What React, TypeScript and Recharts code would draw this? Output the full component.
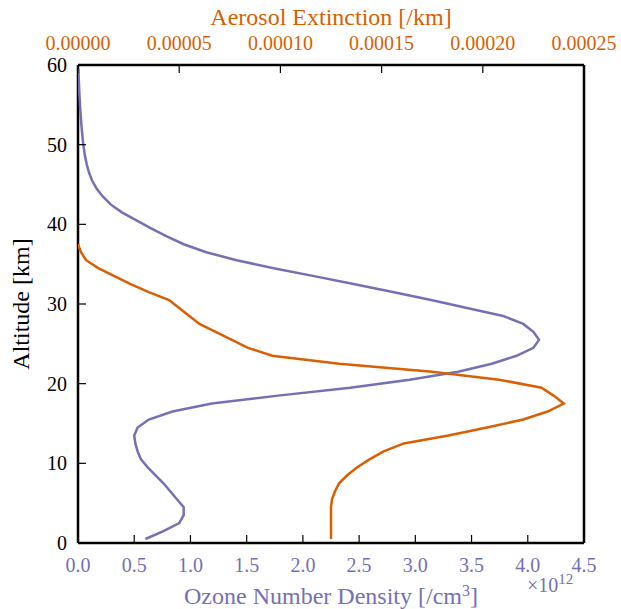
import { Scatter, ScatterChart, XAxis, YAxis } from "recharts";

const PURPLE = "#7570b3";
const ORANGE = "#d95f02";
const FONT = "Liberation Serif, Times New Roman, DejaVu Serif, serif";

// ozone profile, altitude in km, density in units of 1e12 /cm^3
const ozoneAlt = [
  0.5, 1.5, 2.5, 3.5, 4.5, 5.5, 6.5, 7.5, 8.5, 9.5, 10.5, 11.5, 12.5, 13.5, 14.5,
  15.5, 16.5, 17.5, 18.5, 19.5, 20.5, 21.5, 22.5, 23.5, 24.5, 25.5, 26.5, 27.5,
  28.5, 29.5, 30.5, 31.5, 32.5, 33.5, 34.5, 35.5, 36.5, 37.5, 38.5, 39.5, 40.5,
  41.5, 42.5, 43.5, 44.5, 45.5, 46.5, 47.5, 48.5, 49.5, 50.5, 52.5, 54.5, 56.5,
  58.5, 59.5,
];
const ozoneVal = [
  0.6, 0.76, 0.9, 0.94, 0.94, 0.88, 0.82, 0.76, 0.69, 0.62, 0.56, 0.53, 0.51, 0.5,
  0.53, 0.63, 0.84, 1.19, 1.78, 2.42, 2.95, 3.38, 3.68, 3.9, 4.05, 4.1, 4.05, 3.96,
  3.78, 3.46, 3.14, 2.8, 2.45, 2.1, 1.74, 1.41, 1.14, 0.94, 0.79, 0.65, 0.52, 0.39,
  0.29, 0.22, 0.165, 0.125, 0.098, 0.078, 0.063, 0.052, 0.043, 0.03, 0.02, 0.012,
  0.006, 0.003,
];

// aerosol extinction profile, /km
const aerosolAlt = [
  0.5, 1.5, 2.5, 3.5, 4.5, 5.5, 6.5, 7.5, 8.5, 9.5, 10.5, 11.5, 12.5, 13.5, 14.5,
  15.5, 16.5, 17.5, 18.5, 19.5, 20.5, 21.5, 22.5, 23.5, 24.5, 25.5, 26.5, 27.5,
  28.5, 29.5, 30.5, 31.5, 32.5, 33.5, 34.5, 35.5, 36.5, 37.5,
];
const aerosolVal = [
  12.5e-5, 12.5e-5, 12.5e-5, 12.5e-5, 12.5e-5, 12.55e-5, 12.7e-5, 12.9e-5, 13.3e-5,
  13.8e-5, 14.4e-5, 15.1e-5, 16.1e-5, 18.3e-5, 20.2e-5, 22.0e-5, 23.2e-5, 24.0e-5,
  23.5e-5, 22.9e-5, 20.8e-5, 17.5e-5, 12.9e-5, 9.6e-5, 8.4e-5, 7.6e-5, 6.8e-5,
  6.0e-5, 5.5e-5, 5.0e-5, 4.5e-5, 3.5e-5, 2.6e-5, 1.8e-5, 1.0e-5, 0.4e-5, 0.15e-5, 0,
];

const ozoneTicks = [0, 0.5, 1, 1.5, 2, 2.5, 3, 3.5, 4, 4.5];
const aerosolTicks = [0, 0.00005, 0.0001, 0.00015, 0.0002, 0.00025];
const altTicks = [0, 10, 20, 30, 40, 50, 60];

const ozoneData = ozoneAlt.map((alt, i) => ({ alt, oz: ozoneVal[i] }));
const aerosolData = aerosolAlt.map((alt, i) => ({ alt, ext: aerosolVal[i] }));

const TICK = 8;
const GAP = 14;
const txt = { fontFamily: FONT, fontSize: 20 };
const title = { fontFamily: FONT, fontSize: 24 };

const BottomTick = ({ x, y, payload }: any) => (
  <g>
    <line x1={x} y1={y - GAP} x2={x} y2={y - GAP - TICK} stroke="#000" strokeWidth={1.2} />
    <text x={x} y={y + 15} textAnchor="middle" fill={PURPLE} style={txt}>
      {payload.value.toFixed(1)}
    </text>
  </g>
);

const TopTick = ({ x, y, payload }: any) => (
  <g>
    <line x1={x} y1={y + GAP} x2={x} y2={y + GAP + TICK} stroke="#000" strokeWidth={1.2} />
    <text x={x} y={y - 1} textAnchor="middle" fill={ORANGE} style={txt}>
      {payload.value.toFixed(5)}
    </text>
  </g>
);

const LeftTick = ({ x, y, payload }: any) => (
  <g>
    <line x1={x + 11} y1={y} x2={x + 11 + TICK} y2={y} stroke="#000" strokeWidth={1.2} />
    <text x={x} y={y + 7} textAnchor="end" fill="#000" style={txt}>
      {payload.value}
    </text>
  </g>
);

const RightTick = ({ x, y }: any) => (
  <line x1={x} y1={y} x2={x - TICK} y2={y} stroke="#000" strokeWidth={1.2} />
);

const noDot = () => <g />;

export default function App() {
  return (
    <div style={{ position: "absolute", left: 0, top: 0, width: 621, height: 609, background: "#fff" }}>
      <ScatterChart width={621} height={609} margin={{ top: 0, right: 36, bottom: 0, left: 0 }}>
        <XAxis
          xAxisId="oz"
          dataKey="oz"
          type="number"
          orientation="bottom"
          domain={[0, 4.5]}
          ticks={ozoneTicks}
          height={66}
          tickSize={0}
          tickMargin={GAP}
          tickLine={false}
          axisLine={{ stroke: "#000", strokeWidth: 2.5 }}
          tick={<BottomTick />}
          allowDataOverflow
          interval={0}
        />
        <XAxis
          xAxisId="ext"
          dataKey="ext"
          type="number"
          orientation="top"
          domain={[0, 0.00025]}
          ticks={aerosolTicks}
          height={65}
          tickSize={0}
          tickMargin={GAP}
          tickLine={false}
          axisLine={{ stroke: "#000", strokeWidth: 2.5 }}
          tick={<TopTick />}
          allowDataOverflow
          interval={0}
        />
        <YAxis
          yAxisId="alt"
          dataKey="alt"
          type="number"
          domain={[0, 60]}
          ticks={altTicks}
          width={78}
          tickSize={0}
          tickMargin={11}
          tickLine={false}
          axisLine={{ stroke: "#000", strokeWidth: 2.5 }}
          tick={<LeftTick />}
          allowDataOverflow
          interval={0}
        />
        <YAxis
          yAxisId="right"
          orientation="right"
          type="number"
          domain={[0, 60]}
          ticks={altTicks}
          width={1}
          tickSize={0}
          tickMargin={0}
          tickLine={false}
          axisLine={{ stroke: "#000", strokeWidth: 2.5 }}
          tick={<RightTick />}
          interval={0}
        />
        <Scatter
          data={ozoneData}
          xAxisId="oz"
          yAxisId="alt"
          line={{ stroke: PURPLE, strokeWidth: 2.5 }}
          shape={noDot}
          fill={PURPLE}
          isAnimationActive={false}
        />
        <Scatter
          data={aerosolData}
          xAxisId="ext"
          yAxisId="alt"
          line={{ stroke: ORANGE, strokeWidth: 2.5 }}
          shape={noDot}
          fill={ORANGE}
          isAnimationActive={false}
        />
      </ScatterChart>
      <svg
        width={621}
        height={609}
        style={{ position: "absolute", left: 0, top: 0, pointerEvents: "none", fontFamily: FONT }}
      >
        <text x={331} y={25} textAnchor="middle" fill={ORANGE} style={title}>
          Aerosol Extinction [/km]
        </text>
        <text x={331} y={604} textAnchor="middle" fill={PURPLE} style={title}>
          Ozone Number Density [/cm<tspan dy={-8} style={{ fontSize: 16 }}>3</tspan>
          <tspan dy={8}>]</tspan>
        </text>
        <text x={527} y={592} fill={PURPLE} style={{ fontFamily: FONT, fontSize: 20 }}>
          ×10<tspan dy={-8} style={{ fontSize: 15 }}>12</tspan>
        </text>
        <text x={29} y={304} textAnchor="middle" fill="#000" style={title} transform="rotate(-90 29 304)">
          Altitude [km]
        </text>
      </svg>
    </div>
  );
}
